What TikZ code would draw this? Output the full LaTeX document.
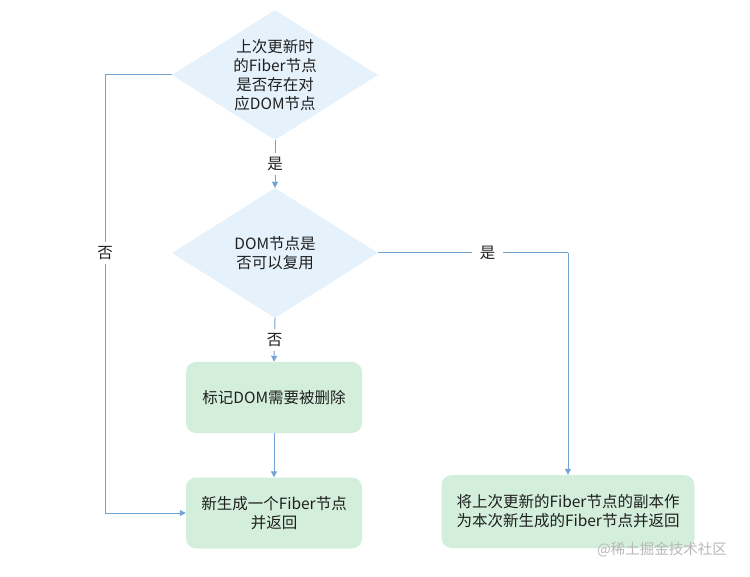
\documentclass[tikz,border=0pt]{standalone}
\usepackage{fontspec}
\setmainfont{Noto Sans CJK SC}
\usetikzlibrary{shapes.geometric,arrows.meta}
\definecolor{dfill}{HTML}{E5F2FC}
\definecolor{bfill}{HTML}{D3EEDA}
\definecolor{lcol}{HTML}{74A3D6}
\begin{document}
\begin{tikzpicture}[x=1pt,y=-1pt,
  dec/.style={diamond,fill=dfill,minimum width=206pt,minimum height=130pt,inner sep=0pt},
  txt/.style={font=\fontsize{15.5}{19}\selectfont,align=center,text=black!88},
  procbox/.style={rounded corners=10pt,fill=bfill,txt},
  conn/.style={draw=lcol,line width=1pt,-{Triangle[length=6pt,width=6pt]}},
  plain/.style={draw=lcol,line width=1pt},
  lab/.style={fill=white,txt,inner xsep=7.5pt,inner ysep=4pt}]
\useasboundingbox (0,0) rectangle (750,577);
\node[dec] (d1) at (275,75) {};
\node[txt] (t1) at (275,75) {上次更新时\\的Fiber节点\\是否存在对\\应DOM节点};
\node[dec] (d2) at (275,253) {};
\node[txt] (t2) at (275,253) {DOM节点是\\否可以复用};
\node[procbox,minimum width=176pt,minimum height=71pt] (b1) at (274,397.5) {标记DOM需要被删除};
\node[procbox,minimum width=176pt,minimum height=71pt] (b2) at (274,513) {新生成一个Fiber节点\\并返回};
\node[procbox,minimum width=253pt,minimum height=73pt] (b3) at (568,511.5) {将上次更新的Fiber节点的副本作\\为本次新生成的Fiber节点并返回};
\coordinate (lc1) at (105,75);
\coordinate (lc2) at (105,513);
\coordinate (rc1) at (568,253);
\draw[conn] (d1.south) -- node[lab] {是} (d2.north);
\draw[conn] (d2.south) -- node[lab] {否} (b1.north);
\draw[conn] (b1.south) -- (b2.north);
\draw[conn] (d1.west) -- (lc1) -- node[lab,pos=0.406] {否} (lc2) -- (b2.west);
\draw[plain] (d2.east) -- node[lab,pos=0.576] {是} (rc1);
\draw[conn] (rc1) -- (b3.north);
\node[font=\fontsize{14.5}{16}\selectfont,text=black!28] (wm) at (662,550) {@稀土掘金技术社区};
\end{tikzpicture}
\end{document}
